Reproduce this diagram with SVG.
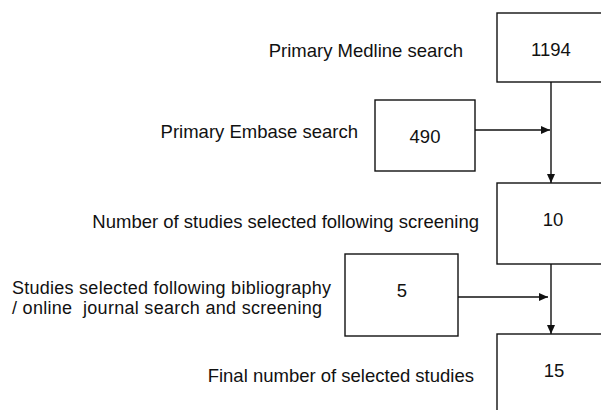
<svg xmlns="http://www.w3.org/2000/svg" width="601" height="410" viewBox="0 0 601 410">
  <style>
    text { font-family: "Liberation Sans", Arial, sans-serif; font-size: 18.5px; fill: #111; }
    .num { text-anchor: middle; }
    .lbl { text-anchor: end; }
    .two { font-size: 18px; }
    .box { fill: #fff; stroke: #111; stroke-width: 1.4; }
    .conn { stroke: #111; stroke-width: 1.4; fill: none; }
  </style>
  <defs>
    <marker id="arrow" markerUnits="userSpaceOnUse" markerWidth="10" markerHeight="8" refX="9" refY="4" orient="auto">
      <path d="M0,0 L9,4 L0,8 Z" fill="#111"/>
    </marker>
  </defs>
  <rect width="601" height="410" fill="#fff"/>

  <g id="labels">
    <text class="lbl" x="463" y="57">Primary Medline search</text>
    <text class="lbl" x="358" y="138">Primary Embase search</text>
    <text class="lbl" x="479" y="228">Number of studies selected following screening</text>
    <text class="two" x="12" y="294" textLength="319">Studies selected following bibliography</text>
    <text class="two" x="12" y="314" textLength="310" xml:space="preserve" style="white-space:pre">/ online  journal search and screening</text>
    <text class="lbl" x="474" y="382">Final number of selected studies</text>
  </g>

  <g id="connectors">
    <line class="conn" x1="551" y1="82" x2="551" y2="183" marker-end="url(#arrow)"/>
    <line class="conn" x1="475" y1="130" x2="550" y2="130" marker-end="url(#arrow)"/>
    <line class="conn" x1="551" y1="264" x2="551" y2="334" marker-end="url(#arrow)"/>
    <line class="conn" x1="458" y1="297" x2="548" y2="297" marker-end="url(#arrow)"/>
  </g>

  <g id="node-medline">
    <rect class="box" x="497" y="13" width="120" height="69"/>
    <text class="num" x="551" y="56">1194</text>
  </g>
  <g id="node-embase">
    <rect class="box" x="375" y="100" width="100" height="71"/>
    <text class="num" x="425" y="143">490</text>
  </g>
  <g id="node-screened">
    <rect class="box" x="497" y="183" width="120" height="81"/>
    <text class="num" x="553" y="226">10</text>
  </g>
  <g id="node-bibliography">
    <rect class="box" x="345" y="254" width="113" height="82"/>
    <text class="num" x="402" y="297">5</text>
  </g>
  <g id="node-final">
    <rect class="box" x="497" y="334" width="120" height="100"/>
    <text class="num" x="554" y="377">15</text>
  </g>
</svg>
